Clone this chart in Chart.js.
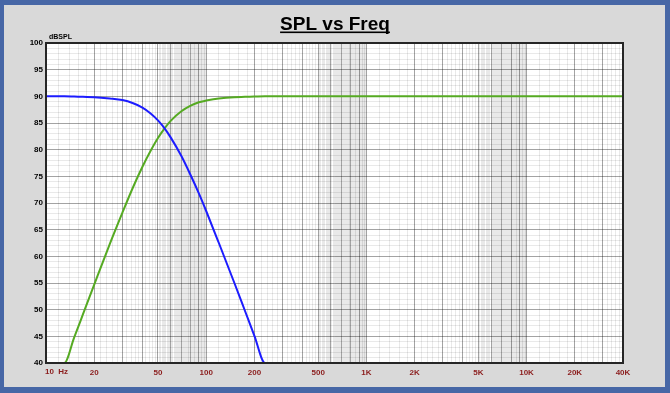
<!DOCTYPE html>
<html>
<head>
<meta charset="utf-8">
<title>SPL vs Freq</title>
<script src="https://cdn.jsdelivr.net/npm/chart.js@4.4.1/dist/chart.umd.min.js"></script>
<style>
  html, body { margin: 0; padding: 0; background: #4767a6; }
  canvas { display: block; }
</style>
</head>
<body>
<canvas id="splChart" width="670" height="393"></canvas>
<script>
// frequency points (Hz)
const freqs = [10, 13, 15, 17, 20, 25, 30, 35, 40, 45, 50, 55, 60, 70, 80, 90, 100, 120, 150, 175, 200, 233, 250, 300, 500, 1000, 2000, 5000, 10000, 20000, 40000];

// low-pass (blue) and high-pass (green) responses, dBSPL
const lowPass  = [90, 90, 89.95, 89.9, 89.85, 89.6, 89.3, 88.7, 87.9, 86.8, 85.5, 84.0, 82.3, 78.8, 75.2, 71.8, 68.5, 62.5, 55.0, 49.7, 45.1, 40, 40, 40, 40, 40, 40, 40, 40, 40, 40];
const highPass = [40, 40, 44.8, 49.1, 54.7, 62.3, 68.2, 73.0, 76.8, 79.8, 82.2, 84.0, 85.4, 87.2, 88.25, 88.9, 89.2, 89.6, 89.85, 89.9, 89.95, 90, 90, 90, 90, 90, 90, 90, 90, 90, 90];

// axis labels
const xTickValues = [10, 20, 50, 100, 200, 500, 1000, 2000, 5000, 10000, 20000, 40000];
const xTickLabels = ["10  Hz", "20", "50", "100", "200", "500", "1K", "2K", "5K", "10K", "20K", "40K"];
const yTickValues = [40, 45, 50, 55, 60, 65, 70, 75, 80, 85, 90, 95, 100];

const FONT = "'Liberation Sans', Arial, sans-serif";
// translucent so crossing lines don't wipe each other out
const majorGrid = "rgba(0,0,0,0.36)";
const minorGrid = "rgba(0,0,0,0.085)";

// x gridlines: every whole step of a decade is major, finer steps are minor
function isMajorX(v) {
  const d = Math.pow(10, Math.floor(Math.log10(v) + 1e-9));
  return Math.abs(v / d - Math.round(v / d)) < 1e-6;
}

const framePlugin = {
  id: "frame",
  beforeDraw(chart) {
    const ctx = chart.ctx, a = chart.chartArea;
    ctx.save();
    ctx.fillStyle = "#4767a6";
    ctx.fillRect(0, 0, chart.width, chart.height);
    ctx.fillStyle = "#d9d9d9";
    ctx.fillRect(4, 5, 661, 382);
    ctx.fillStyle = "#ffffff";
    ctx.fillRect(a.left, a.top, a.right - a.left, a.bottom - a.top);
    ctx.restore();
  },
  afterDraw(chart) {
    const ctx = chart.ctx, a = chart.chartArea;
    ctx.save();
    // plot border
    ctx.strokeStyle = "#262626";
    ctx.lineWidth = 2;
    ctx.strokeRect(a.left, a.top, a.right - a.left, a.bottom - a.top);

    // title, underlined
    ctx.fillStyle = "#000";
    ctx.font = "bold 19px " + FONT;
    ctx.textAlign = "center";
    ctx.textBaseline = "alphabetic";
    const title = "SPL vs Freq";
    const w = ctx.measureText(title).width;
    ctx.fillText(title, 335, 30);
    ctx.fillRect(335 - w / 2, 31.5, w, 1.6);

    // unit label
    ctx.font = "bold 7px " + FONT;
    ctx.textAlign = "left";
    ctx.fillText("dBSPL", 49, 39);

    // first x label sits to the right of its tick
    ctx.font = "bold 8px " + FONT;
    ctx.fillStyle = "#8b1c1c";
    ctx.textBaseline = "middle";
    const x10 = chart.scales.x.getPixelForValue(xTickValues[0]);
    ctx.fillText(xTickLabels[0], x10 - 1, a.bottom + 9);
    ctx.restore();
  }
};

new Chart(document.getElementById("splChart"), {
  type: "line",
  data: {
    datasets: [
      {
        label: "Low pass",
        data: freqs.map((f, i) => ({ x: f, y: lowPass[i] })),
        borderColor: "#1c1cff",
        borderWidth: 2,
        pointRadius: 0,
        cubicInterpolationMode: "monotone"
      },
      {
        label: "High pass",
        data: freqs.map((f, i) => ({ x: f, y: highPass[i] })),
        borderColor: "#55aa22",
        borderWidth: 2,
        pointRadius: 0,
        cubicInterpolationMode: "monotone"
      }
    ]
  },
  options: {
    responsive: false,
    animation: false,
    layout: { padding: { left: 0, top: 43, right: 47, bottom: 0 } },
    plugins: {
      legend: { display: false },
      tooltip: { enabled: false }
    },
    scales: {
      x: {
        type: "logarithmic",
        min: 10,
        max: 40000,
        afterFit(scale) { scale.height = 30; },
        afterBuildTicks(scale) {
          const ticks = [];
          for (let d = 10; d <= 10000; d *= 10) {
            for (let k = 10; k < 100; k += (k < 50 ? 2 : 1)) {
              const v = d * k / 10;
              if (v <= 40000) ticks.push({ value: v });
            }
          }
          scale.ticks = ticks;
        },
        border: { display: false },
        grid: {
          drawTicks: false,
          lineWidth: 1,
          color: ctx => (ctx.tick && isMajorX(ctx.tick.value)) ? majorGrid : minorGrid
        },
        ticks: {
          autoSkip: false,
          maxRotation: 0,
          padding: 5,
          color: "#8b1c1c",
          font: { family: FONT, size: 8, weight: "bold" },
          callback(value) {
            const i = xTickValues.indexOf(value);
            return i > 0 ? xTickLabels[i] : "";
          }
        }
      },
      y: {
        type: "linear",
        min: 40,
        max: 100,
        afterFit(scale) { scale.width = 46; },
        border: { display: false },
        grid: {
          drawTicks: false,
          lineWidth: 1,
          color: ctx => (ctx.tick && yTickValues.includes(ctx.tick.value)) ? majorGrid : minorGrid
        },
        ticks: {
          stepSize: 1,
          autoSkip: false,
          padding: 3,
          color: "#000",
          font: { family: FONT, size: 8, weight: "bold" },
          callback(value) {
            return yTickValues.includes(value) ? String(value) : "";
          }
        }
      }
    }
  },
  plugins: [framePlugin]
});
</script>
</body>
</html>
